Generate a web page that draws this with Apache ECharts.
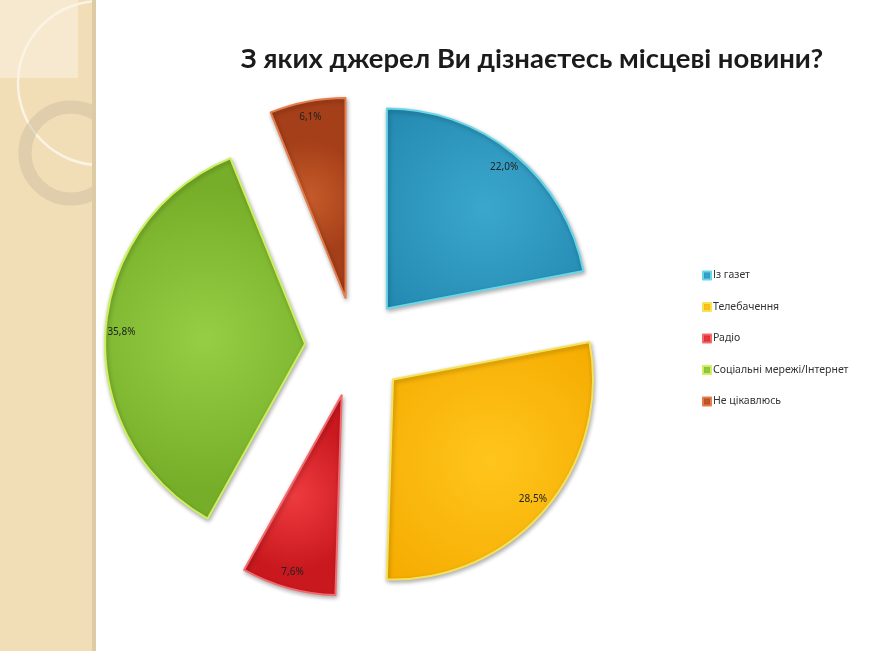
<!DOCTYPE html>
<html>
<head>
<meta charset="utf-8">
<script src="https://cdn.jsdelivr.net/npm/echarts@6/dist/echarts.min.js"></script>
<style>
  html, body { margin: 0; padding: 0; background: #fff; }
  #chart { width: 869px; height: 651px; }
</style>
</head>
<body>
<div id="chart"></div>
<script>
// дані діаграми
var categories = ['Із газет', 'Телебачення', 'Радіо', 'Соціальні мережі/Інтернет', 'Не цікавлюсь'];
var shares = [22.0, 28.5, 7.6, 35.8, 6.1];

// кольори секторів: центр, край, обводка
var fillInner = ['#3ba7cd', '#ffc51c', '#ee3b40', '#96cf45', '#c65b2a'];
var fillOuter = ['#2186ad', '#f5ab00', '#c9191f', '#76ae29', '#a53f19'];
var edgeColor = ['#66d6e8', '#f4e35a', '#f26a6e', '#cdf05c', '#e47c4c'];

var CENTER = [355, 347];

var chart = echarts.init(document.getElementById('chart'));

let shapeData = categories.map(function (name, i) {
  return {
    name: name,
    value: shares[i],
    selected: true,
    itemStyle: {
      color: {
        type: 'radial', x: 0.5, y: 0.5, r: 0.75,
        colorStops: [{ offset: 0, color: fillInner[i] }, { offset: 1, color: fillOuter[i] }]
      },
      borderColor: edgeColor[i],
      borderWidth: 2
    }
  };
});

// окрема прозора серія тільки для підписів (ближче до краю)
let labelData = categories.map(function (name, i) {
  return { name: name, value: shares[i], selected: true };
});

chart.setOption({
  animation: false,
  backgroundColor: '#ffffff',
  title: {
    text: 'З яких джерел Ви дізнаєтесь місцеві новини?',
    left: 527,
    top: 40,
    textAlign: 'center',
    z: 6,
    textStyle: { fontFamily: 'Lato, "Noto Sans", sans-serif', fontWeight: 'bold', fontSize: 27.5, color: '#1b1b1b' }
  },
  legend: {
    orient: 'vertical',
    left: 697,
    top: 265,
    itemWidth: 8,
    itemHeight: 8,
    itemGap: 20.5,
    icon: 'rect',
    selectedMode: false,
    data: categories,
    textStyle: { fontFamily: '"Noto Sans", sans-serif', fontSize: 10.5, color: '#333', padding: [0, 0, 0, -3] }
  },
  graphic: [
    // бічна панель зліва
    { type: 'rect', z: 0, shape: { x: 0, y: 0, width: 96, height: 651 }, style: { fill: '#f1ddb6' } },
    { type: 'rect', z: 0, shape: { x: 0, y: 0, width: 78, height: 78 }, style: { fill: '#f6e9cf' } },
    { type: 'circle', z: 0, shape: { cx: 100, cy: 83, r: 82 }, style: { fill: 'none', stroke: '#fbf4e4', lineWidth: 2.5 } },
    { type: 'circle', z: 0, shape: { cx: 71, cy: 153, r: 46 }, style: { fill: 'none', stroke: 'rgba(205,190,160,0.5)', lineWidth: 13 } },
    { type: 'rect', z: 1, shape: { x: 96, y: 0, width: 773, height: 651 }, style: { fill: '#ffffff' } },
    { type: 'rect', z: 1, shape: { x: 92, y: 0, width: 4, height: 651 }, style: { fill: '#ddcba6' } }
  ],
  series: [
    {
      type: 'pie',
      z: 2,
      center: CENTER,
      radius: [0, 200],
      startAngle: 90,
      clockwise: true,
      selectedMode: 'multiple',
      selectedOffset: 50,
      silent: true,
      label: { show: false },
      labelLine: { show: false },
      itemStyle: { shadowBlur: 4, shadowColor: 'rgba(0,0,0,0.3)', shadowOffsetX: 1, shadowOffsetY: 2 },
      data: shapeData
    },
    {
      type: 'pie',
      z: 3,
      center: CENTER,
      radius: [0, 362],
      startAngle: 90,
      clockwise: true,
      selectedMode: 'multiple',
      selectedOffset: 50,
      silent: true,
      itemStyle: { color: 'rgba(0,0,0,0)', borderWidth: 0 },
      labelLine: { show: false },
      label: {
        show: true,
        position: 'inside',
        fontFamily: '"Noto Sans", sans-serif',
        fontSize: 10,
        color: '#222',
        formatter: function (p) { return p.value.toFixed(1).replace('.', ',') + '%'; }
      },
      data: labelData
    }
  ]
});
</script>
</body>
</html>
